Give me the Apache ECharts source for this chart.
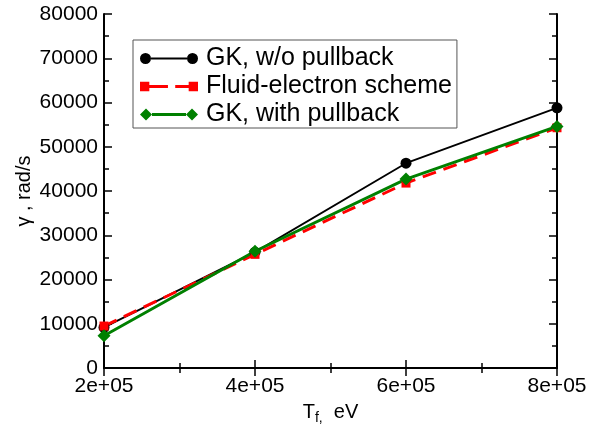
<!DOCTYPE html>
<html>
<head>
<meta charset="utf-8">
<script src="https://cdn.jsdelivr.net/npm/echarts@6/dist/echarts.min.js"></script>
<style>
  html, body { margin: 0; padding: 0; background: #fff; }
  #main { width: 592px; height: 430px; }
</style>
</head>
<body>
<div id="main"></div>
<script>
// T_f values (eV)
let tf = [200000, 400000, 600000, 800000]
// growth rate gamma (rad/s)
let gkNoPullback = [9200, 26200, 46300, 58800]
let fluidElectron = [9500, 25700, 41800, 54300]
let gkWithPullback = [7300, 26400, 42700, 54600]

let xTicks = [200000, 400000, 600000, 800000]
let yTicks = [0, 10000, 20000, 30000, 40000, 50000, 60000, 70000, 80000]

function pairs (xs, ys) {
  return xs.map(function (x, i) { return [x, ys[i]] })
}

// legend icons: line with a marker at both ends (58 x 12 box), pieces don't overlap
let iconCircle = 'path://M0,6a5.5,5.5 0 1,0 11,0a5.5,5.5 0 1,0 -11,0z M11,5.1h36v1.8h-36z M47,6a5.5,5.5 0 1,0 11,0a5.5,5.5 0 1,0 -11,0z'
let iconSquare = 'path://M1,1.5h9v9h-9z M10,4.6h18v2.8h-18z M35,4.6h13v2.8h-13z M48,1.5h9v9h-9z'
let iconDiamond = 'path://M0,6L6,0L12,6L6,12z M12,4.6h34v2.8h-34z M46,6L52,0L58,6L52,12z'

let font = 'Liberation Sans'

// one axis per side for major ticks (inside, long) and one for minor ticks (inside, short)
function frameAxis (extra, interval, tickLen, showLine) {
  return Object.assign({
    type: 'value',
    interval: interval,
    axisLine: {show: showLine, lineStyle: {color: '#000', width: 2}},
    axisTick: {inside: true, length: tickLen, lineStyle: {color: '#000', width: 1.5}},
    axisLabel: {show: false},
    splitLine: {show: false}
  }, extra)
}

let xMin = xTicks[0]
let xMax = xTicks[xTicks.length - 1]
let yMin = yTicks[0]
let yMax = yTicks[yTicks.length - 1]

let option = {
  animation: false,
  backgroundColor: '#fff',
  grid: {left: 104, right: 35, top: 14, bottom: 61},
  legend: {
    orient: 'vertical',
    left: 133,
    top: 40,
    padding: [6, 5, 1, 7],
    itemGap: 3,
    itemWidth: 58,
    itemHeight: 12,
    borderColor: '#555',
    borderWidth: 1,
    textStyle: {fontFamily: font, fontSize: 25, color: '#000', lineHeight: 25, padding: [0, 0, 0, 3]},
    data: [
      {name: 'GK, w/o pullback', icon: iconCircle},
      {name: 'Fluid-electron scheme', icon: iconSquare},
      {name: 'GK, with pullback', icon: iconDiamond}
    ]
  },
  xAxis: [
    frameAxis({
      min: xMin,
      max: xMax,
      name: '{a|T}{s|f,}{a|  eV}',
      nameLocation: 'middle',
      nameGap: 32,
      nameTextStyle: {
        rich: {
          a: {fontFamily: font, fontSize: 20, color: '#000', verticalAlign: 'top'},
          s: {fontFamily: font, fontSize: 14, color: '#000', verticalAlign: 'top', padding: [9, 0, 0, 0]}
        }
      },
      axisLabel: {
        show: true,
        fontFamily: font,
        fontSize: 21,
        color: '#000',
        margin: 8,
        formatter: function (v) { return (v / 100000).toFixed(0) + 'e+05' }
      }
    }, 200000, 8, true),
    frameAxis({min: xMin, max: xMax, position: 'top'}, 200000, 8, true),
    frameAxis({min: xMin, max: xMax, position: 'bottom'}, 100000, 5, false),
    frameAxis({min: xMin, max: xMax, position: 'top'}, 100000, 5, false)
  ],
  yAxis: [
    frameAxis({
      min: yMin,
      max: yMax,
      name: 'γ , rad/s',
      nameLocation: 'middle',
      nameGap: 70,
      nameMoveOverlap: false,
      nameTextStyle: {fontFamily: font, fontSize: 20, color: '#000'},
      axisLabel: {
        show: true,
        fontFamily: font,
        fontSize: 21,
        color: '#000',
        margin: 6,
        formatter: function (v) { return String(v) }
      }
    }, 10000, 8, true),
    frameAxis({min: yMin, max: yMax, position: 'right'}, 10000, 8, true),
    frameAxis({min: yMin, max: yMax, position: 'left'}, 5000, 5, false),
    frameAxis({min: yMin, max: yMax, position: 'right'}, 5000, 5, false)
  ],
  series: [
    {
      name: 'GK, w/o pullback',
      type: 'line',
      data: pairs(tf, gkNoPullback),
      symbol: 'circle',
      symbolSize: 11,
      itemStyle: {color: '#000'},
      lineStyle: {color: '#000', width: 1.8}
    },
    {
      name: 'Fluid-electron scheme',
      type: 'line',
      data: pairs(tf, fluidElectron),
      symbol: 'rect',
      symbolSize: 9,
      itemStyle: {color: '#ff0000'},
      lineStyle: {color: '#ff0000', width: 3, type: [14, 8]}
    },
    {
      name: 'GK, with pullback',
      type: 'line',
      data: pairs(tf, gkWithPullback),
      symbol: 'diamond',
      symbolSize: 13,
      itemStyle: {color: '#008000'},
      lineStyle: {color: '#008000', width: 3}
    }
  ]
}

let myChart = echarts.init(document.getElementById('main'))
myChart.setOption(option)
</script>
</body>
</html>
